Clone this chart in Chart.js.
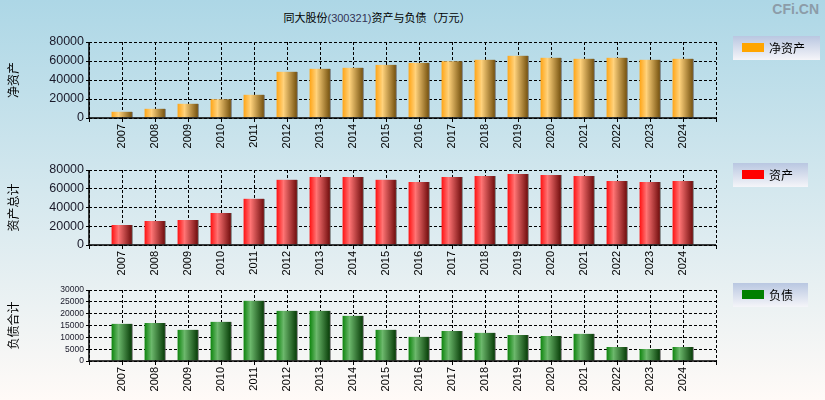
<!DOCTYPE html>
<html>
<head>
<meta charset="utf-8">
<script src="https://cdn.jsdelivr.net/npm/chart.js@4/dist/chart.umd.min.js"></script>
<style>
  html, body { margin: 0; padding: 0; }
  body {
    width: 825px; height: 400px; position: relative; overflow: hidden;
    background: linear-gradient(#add7e6, #fffaf7);
    font-family: "Noto Sans CJK SC", sans-serif;
  }
  canvas { position: absolute; left: 0; }
  #title { position: absolute; top: 9px; left: 0; width: 754px; text-align: center; font-size: 11px; color: #000; }
  #title span { color: #335; font-family: "Liberation Sans Narrow", "Liberation Sans", sans-serif; }
  #logo { position: absolute; top: 1px; right: 6px; font: bold 14px "Liberation Sans", Arial, sans-serif; color: #8c9ca8; }
</style>
</head>
<body>
<div id="title">同大股份<span>(300321)</span>资产与负债（万元）</div>
<div id="logo">CFi.CN</div>
<canvas id="c1" width="825" height="125" style="top:30px"></canvas>
<canvas id="c2" width="825" height="125" style="top:158px"></canvas>
<canvas id="c3" width="825" height="120" style="top:280px"></canvas>
<script>
// years on the x axis
var years = ['2007','2008','2009','2010','2011','2012','2013','2014','2015','2016',
             '2017','2018','2019','2020','2021','2022','2023','2024'];
// 净资产 (万元)
var netAssets = [6700, 9800, 15100, 19700, 24600, 48800, 51900, 53000, 56100, 58200,
                 59700, 61400, 65600, 63500, 62500, 63500, 61400, 62500];
// 资产总计
var totalAssets = [21300, 25600, 26700, 34100, 49400, 69700, 72500, 72500, 69700, 67200,
                   72500, 73600, 75700, 74700, 73600, 68300, 67200, 68300];
// 负债合计
var liabilities = [15700, 16100, 13200, 16600, 25500, 21200, 21200, 19100, 13200, 10200,
                   12700, 11900, 11000, 10600, 11500, 5900, 5100, 5900];

var labels = [''].concat(years, ['']);
function pad(arr) { return [null].concat(arr, [null]); }

function barFill(stops) {
  return function (c) {
    var x = c.chart.scales.x;
    if (!x || c.dataIndex == null) return stops[0];
    var px = x.getPixelForValue(c.dataIndex);
    if (!isFinite(px)) return stops[0];
    var g = c.chart.ctx.createLinearGradient(px - 10.5, 0, px + 9.5, 0);
    g.addColorStop(0, stops[0]);
    g.addColorStop(0.35, stops[1]);
    g.addColorStop(1, stops[2]);
    return g;
  };
}

// solid axis lines on left and bottom (grid lines stay dashed)
var axisLines = {
  id: 'axisLines',
  afterDraw: function (chart) {
    var a = chart.chartArea, ctx = chart.ctx;
    ctx.save();
    ctx.setLineDash([]);
    ctx.strokeStyle = '#000';
    ctx.lineWidth = 1.5;
    ctx.beginPath();
    ctx.moveTo(a.left, a.top);
    ctx.lineTo(a.left, a.bottom);
    ctx.lineTo(a.right, a.bottom);
    ctx.stroke();
    ctx.restore();
  }
};

function legendBox(text, color, x, y, w) {
  return {
    id: 'legendBox',
    afterDraw: function (chart) {
      var ctx = chart.ctx;
      ctx.save();
      var g = ctx.createLinearGradient(0, y, 0, y + 24);
      g.addColorStop(0, '#b9c7e1');
      g.addColorStop(1, '#f5f5f9');
      ctx.fillStyle = g;
      ctx.fillRect(x, y, w, 24);
      ctx.fillStyle = color;
      ctx.fillRect(x + 9, y + 7, 22, 9);
      ctx.fillStyle = '#000';
      ctx.font = '12px "Noto Sans CJK SC"';
      ctx.textBaseline = 'middle';
      ctx.fillText(text, x + 36, y + 12);
      ctx.restore();
    }
  };
}

function makeChart(id, data, stops, max, step, tickSize, yTitle, padTop, xHeight, legend) {
  return new Chart(document.getElementById(id), {
    type: 'bar',
    data: {
      labels: labels,
      datasets: [{
        data: pad(data),
        backgroundColor: barFill(stops),
        borderColor: '#6e6e6e',
        borderWidth: { top: 0, left: 0, bottom: 0, right: 1 },
        barThickness: 21
      }]
    },
    options: {
      responsive: false,
      animation: false,
      layout: { padding: { top: padTop, right: 109, left: 0, bottom: 0 } },
      plugins: { legend: { display: false }, tooltip: { enabled: false } },
      scales: {
        x: {
          offset: false,
          grid: { offset: false, color: '#000', lineWidth: 1, tickLength: 4, tickColor: '#000' },
          border: { display: false, dash: [3, 2] },
          ticks: {
            autoSkip: false, maxRotation: 90, minRotation: 90, padding: 2,
            color: '#000', font: { family: '"Liberation Sans", Arial', size: 11 }
          },
          afterFit: function (s) { s.height = xHeight; }
        },
        y: {
          min: 0, max: max,
          grid: { color: '#000', lineWidth: 1, tickLength: 3, tickColor: '#000' },
          border: { display: false, dash: [3, 2] },
          ticks: {
            stepSize: step, autoSkip: false, padding: 2, color: '#1a1a2a',
            font: { family: '"Liberation Sans", Arial', size: tickSize },
            callback: function (v) { return String(v); }
          },
          title: {
            display: true, text: yTitle, color: '#000', padding: { top: 6, bottom: 0 },
            font: { family: '"Noto Sans CJK SC"', size: 12 }
          },
          afterFit: function (s) { s.width = 89; }
        }
      }
    },
    plugins: [axisLines, legend]
  });
}

makeChart('c1', netAssets, ['#ffa414', '#ffd27c', '#7a5612'], 80000, 20000, 12.5, '净资产', 12, 37,
  legendBox('净资产', '#ffa500', 733, 6, 87));
makeChart('c2', totalAssets, ['#ff1010', '#ff7474', '#741010'], 80000, 20000, 12.5, '资产总计', 12, 38,
  legendBox('资产', '#ff0000', 733, 5, 75));
makeChart('c3', liabilities, ['#0c840c', '#6cb86c', '#0a400a'], 30000, 5000, 8.5, '负债合计', 10, 39,
  legendBox('负债', '#008000', 733, 3, 75));
</script>
</body>
</html>
